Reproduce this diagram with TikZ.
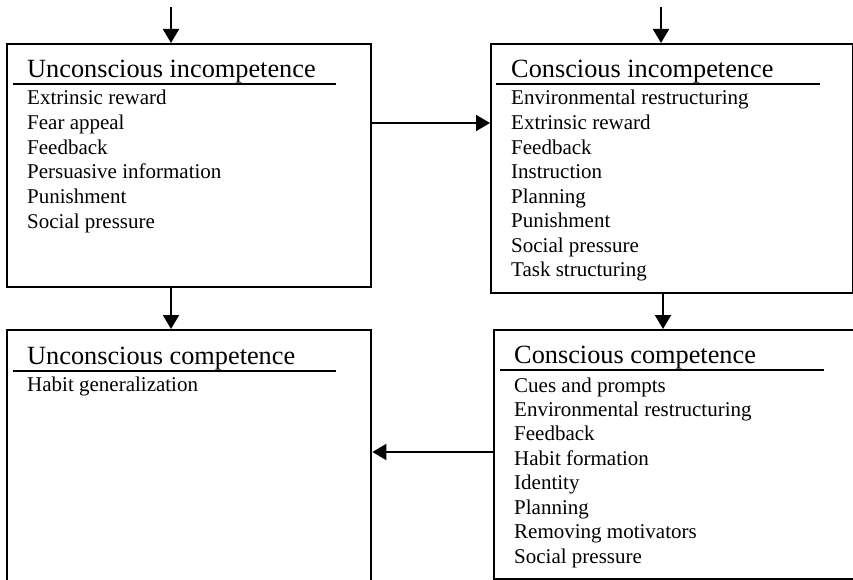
\documentclass[tikz,border=0pt]{standalone}
\usepackage{fontspec}
\setmainfont{Liberation Serif}
\usetikzlibrary{arrows.meta}
\begin{document}
\begin{tikzpicture}[x=1pt,y=-1pt,
  box/.style={draw, line width=2.4pt, inner sep=0pt, anchor=north west},
  heading/.style={anchor=base west, inner sep=0pt, font=\fontsize{26.3}{30}\selectfont},
  item/.style={anchor=base west, inner sep=0pt, font=\fontsize{21}{24}\selectfont},
  rulestyle/.style={line width=1.4pt},
  conn/.style={line width=2pt, -{Triangle[length=14pt,width=16pt]}}]
\useasboundingbox (0,0) rectangle (853,580);

% boxes
\node[box, minimum width=364pt, minimum height=243pt] (ui) at (6,43) {};
\node[box, minimum width=362pt, minimum height=249pt] (ci) at (490,43) {};
\node[box, minimum width=364pt, minimum height=262pt] (uc) at (6,329) {};
\node[box, minimum width=367pt, minimum height=249pt] (cc) at (493,329) {};

% headings and rules
\node[heading] (uit) at (27,78) {Unconscious incompetence};
\draw[rulestyle] (13,84) -- (336,84);
\node[heading] (cit) at (511,78) {Conscious incompetence};
\draw[rulestyle] (496,84) -- (820,84);
\node[heading] (uct) at (27,364) {Unconscious competence};
\draw[rulestyle] (13,371) -- (336,371);
\node[heading] (cct) at (514,363) {Conscious competence};
\draw[rulestyle] (500,370) -- (824,370);

% items
\foreach \t [count=\i] in {Extrinsic reward, Fear appeal, Feedback, Persuasive information, Punishment, Social pressure}
  \node[item] (ui-\i) at (27,{105+(\i-1)*24.6}) {\t};
\foreach \t [count=\i] in {Environmental restructuring, Extrinsic reward, Feedback, Instruction, Planning, Punishment, Social pressure, Task structuring}
  \node[item] (ci-\i) at (511,{105+(\i-1)*24.57}) {\t};
\node[item] (uc-1) at (27,391) {Habit generalization};
\foreach \t [count=\i] in {Cues and prompts, Environmental restructuring, Feedback, Habit formation, Identity, Planning, Removing motivators, Social pressure}
  \node[item] (cc-\i) at (514,{392+(\i-1)*24.43}) {\t};

% connectors
\coordinate (uiin) at (171,7);
\coordinate (ciin) at (661,7);
\draw[conn] (uiin) -- (uiin |- ui.north);
\draw[conn] (ciin) -- (ciin |- ci.north);
\draw[conn] (ui.east |- 0,123) -- (ci.west |- 0,123);
\draw[conn] (ui.south -| 171,0) -- (uc.north -| 171,0);
\draw[conn] (ci.south -| 663,0) -- (cc.north -| 663,0);
\draw[conn] (cc.west |- 0,452) -- (uc.east |- 0,452);
\end{tikzpicture}
\end{document}
